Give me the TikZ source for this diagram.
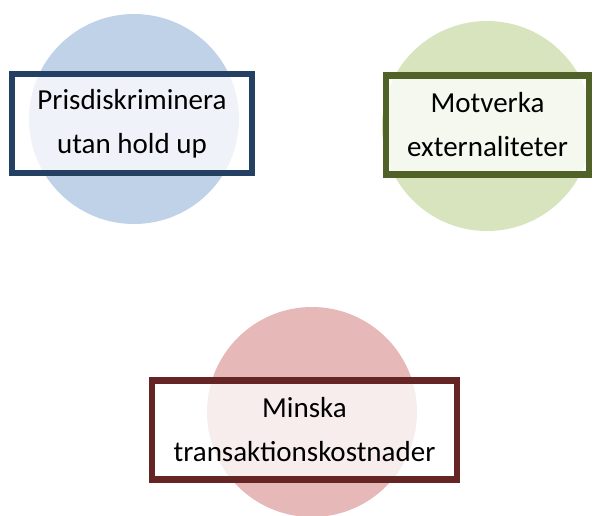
\documentclass[tikz,border=0pt]{standalone}
\usepackage{fontspec}
\setmainfont{Carlito}
\usetikzlibrary{positioning}
\definecolor{birulingkar}{RGB}{192,210,232}
\definecolor{birutua}{RGB}{36,64,98}
\definecolor{hijaulingkar}{RGB}{216,228,190}
\definecolor{hijautua}{RGB}{80,98,40}
\definecolor{merahlingkar}{RGB}{230,185,184}
\definecolor{merahtua}{RGB}{100,37,36}

\begin{document}
\begin{tikzpicture}[x=1pt, y=-1pt,
        every node/.style={font=\fontsize{29}{44}\selectfont},
        disc/.style={circle, minimum size=210pt, inner sep=0pt},
        box/.style={rectangle, line width=6.5pt, fill=white, fill opacity=0.75,
                    text opacity=1, align=center, minimum height=99pt, inner sep=0pt}
    ]
        \useasboundingbox (0,0) rectangle (594,515);
        \node[disc, fill=birulingkar]  (lingA) at (134,119) {};
        \node[disc, fill=hijaulingkar] (lingB) at (487,126) {};
        \node[disc, fill=merahlingkar] (lingC) at (312,412) {};
        \node[box, draw=birutua, minimum width=240pt]  (harga)  at (132,123.5)
            {Prisdiskriminera\\utan hold up};
        \node[box, draw=hijautua, minimum width=203pt] (eksternal) at (487.5,125)
            {Motverka\\externaliteter};
        \node[box, draw=merahtua, minimum width=305pt] (biaya) at (304.5,430)
            {Minska\\transaktionskostnader};
    \end{tikzpicture}
\end{document}
